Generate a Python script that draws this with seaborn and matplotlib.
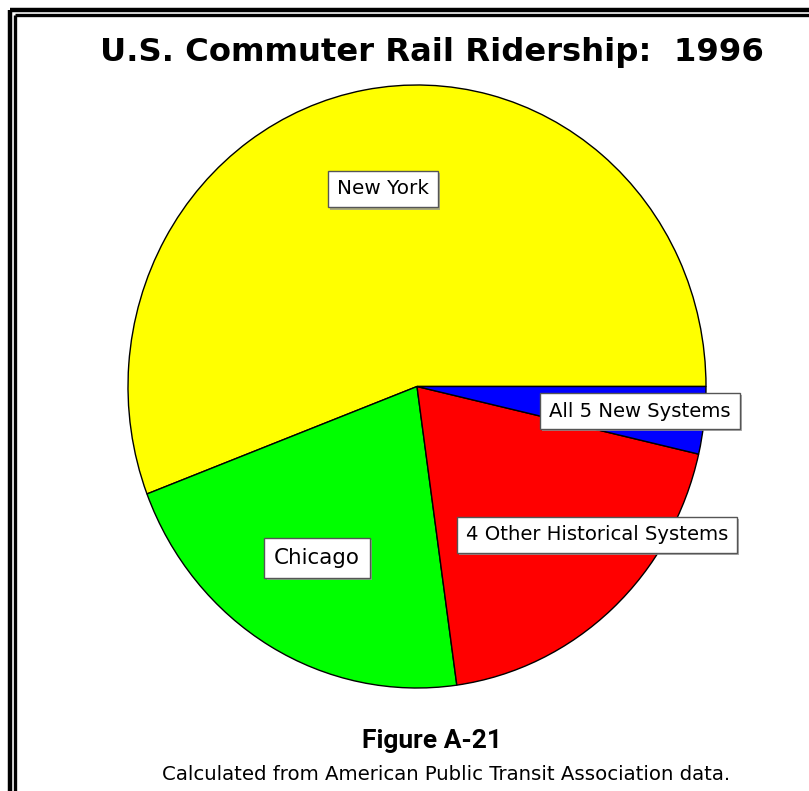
import matplotlib
matplotlib.use('Agg')
import matplotlib.pyplot as plt
import matplotlib.patheffects as pe
from matplotlib.lines import Line2D
import seaborn as sns

# ridership shares (percent of total)
systems = ['New York', 'Chicago', '4 Other Historical Systems', 'All 5 New Systems']
shares = [55.8, 21.4, 19.2, 3.6]
colors = ['#ffff00', '#00ff00', '#ff0000', '#0000ff']

title = 'U.S. Commuter Rail Ridership:  1996'
fig_label = 'Figure A-21'
source = 'Calculated from American Public Transit Association data.'

sns.set_style('white')
plt.rcParams['font.family'] = ['DejaVu Sans']
plt.rcParams['text.color'] = 'black'

W, H = 809, 791
fig = plt.figure(figsize=(W / 100, H / 100), dpi=100)
fig.patch.set_facecolor('white')

# pie is slightly taller than wide in the original
ax = fig.add_axes([128 / W, 1 - 688 / H, 578 / W, 603 / H])
ax.pie(shares, colors=colors, startangle=0, counterclock=True,
       wedgeprops=dict(edgecolor='black', linewidth=1.0))
ax.set_aspect('auto')
ax.set_xlim(-1, 1)
ax.set_ylim(-1, 1)
ax.axis('off')

# double border on the left and top
for lw, off in [(3.2, 10), (2.4, 15)]:
    fig.add_artist(Line2D([off / W, off / W], [0, 1 - off / H], color='black',
                          lw=lw, transform=fig.transFigure, solid_capstyle='butt'))
    fig.add_artist(Line2D([off / W, 1], [1 - off / H, 1 - off / H], color='black',
                          lw=lw, transform=fig.transFigure, solid_capstyle='butt'))

renderer = fig.canvas.get_renderer()


def fit(t, target_px):
    for _ in range(3):
        w = t.get_window_extent(renderer).width
        t.set_fontsize(t.get_fontsize() * target_px / w)


def ftext(px, py, s, target, **kw):
    t = fig.text(px / W, 1 - py / H, s, ha='center', va='center', color='black', **kw)
    fit(t, target)
    return t


ftext(432, 52, title, 662, fontsize=20, fontweight='bold')
ftext(432, 741, fig_label, 140, fontsize=16, fontweight='bold', family='Roboto')
ftext(446, 774, source, 570, fontsize=14)

# label boxes (pixel centres and text widths)
label_pos = [(383, 189, 92), (317, 558, 86), (597, 535, 262), (640, 411, 182)]
for name, (px, py, tw) in zip(systems, label_pos):
    t = ftext(px, py, name, tw, fontsize=12)
    t.set_bbox(dict(boxstyle='square,pad=0.45', facecolor='white',
                    edgecolor='#555555', linewidth=1.0))
    t.get_bbox_patch().set_path_effects(
        [pe.SimplePatchShadow(offset=(1.5, -1.5), shadow_rgbFace='#999999', alpha=0.8),
         pe.Normal()])

fig.savefig('out.png', dpi=100)
plt.close(fig)
